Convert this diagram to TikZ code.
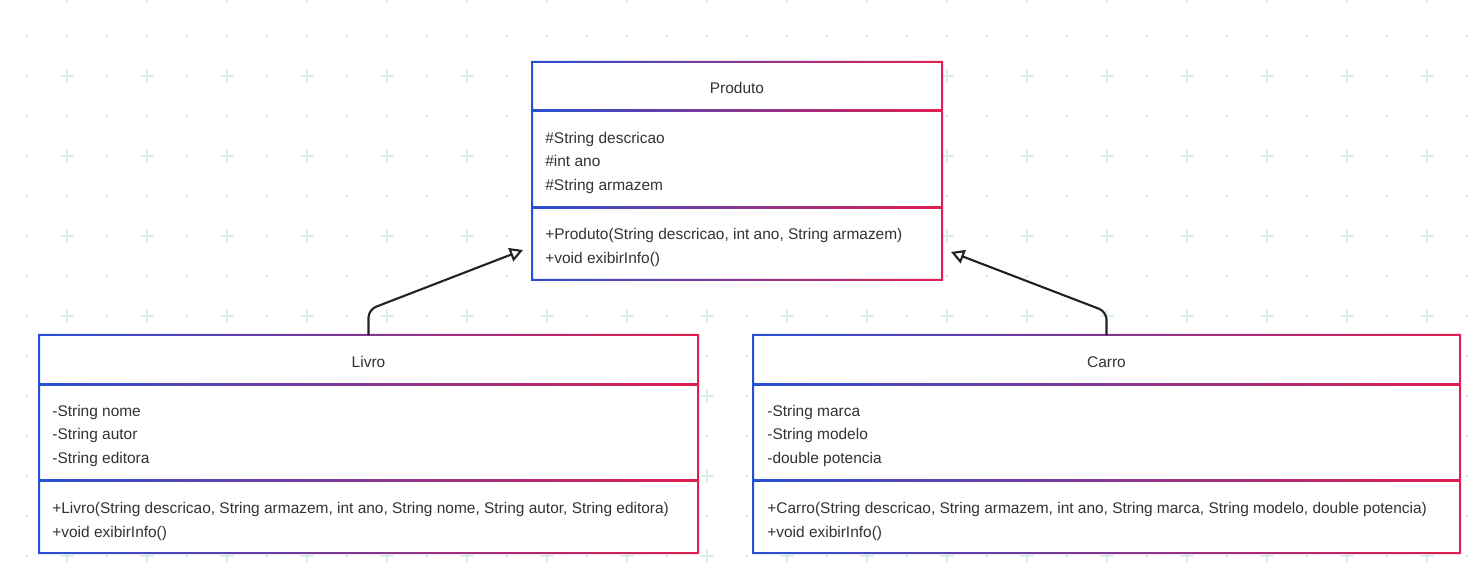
\documentclass[tikz,border=0pt]{standalone}
\usepackage{fontspec}
\setmainfont{Liberation Sans}
\usetikzlibrary{arrows.meta}
\definecolor{umlblue}{RGB}{40,80,210}
\definecolor{umlred}{RGB}{225,30,80}
\definecolor{gridcol}{RGB}{218,237,241}
\definecolor{txtcol}{RGB}{51,51,51}
\definecolor{linkcol}{RGB}{34,34,34}

\begin{document}
\begin{tikzpicture}[x=0.02cm,y=-0.02cm,line cap=round,line join=round,
  gradframe/.style={left color=umlblue,right color=umlred,even odd rule},
  classname/.style={inner sep=0pt,text=txtcol,font=\fontsize{8.8}{13.1}\selectfont},
  members/.style={inner sep=0pt,anchor=west,align=left,text=txtcol,font=\fontsize{8.8}{13.1}\selectfont},
  inherit/.style={-{Triangle[open,length=7.5pt,width=8pt]},linkcol,line width=1.2pt,rounded corners=4.5pt}]

\useasboundingbox (0,0) rectangle (1477,580);

% background grid
\foreach \i in {0,...,36}
  \foreach \j in {0,...,14}
    \fill[gridcol] (27+40*\i,-4+40*\j) circle (0.035cm);
\foreach \i in {0,...,17}
  \foreach \j in {0,...,7}
    \draw[gridcol,line width=1pt] (61+80*\i,-4+80*\j) -- ++(12,0) (67+80*\i,-10+80*\j) -- ++(0,12);

% Produto
\fill[white] (532,62) rectangle (942,280);
\shade[gradframe] (531,61) rectangle (943,281) (533,63) rectangle (941,279);
\shade[gradframe] (532,110) rectangle (942,112);
\shade[gradframe] (532,207) rectangle (942,209);
\node[classname,minimum width=8.2cm,minimum height=0.98cm] (produto) at (737,86.5) {};
\node[classname] (produto-name) at (737,88) {Produto};
\node[members] (produto-attr) at (545,163) {\#String descricao\\\#int ano\\\#String armazem};
\node[members] (produto-ops) at (545,247.5) {+Produto(String descricao, int ano, String armazem)\\+void exibirInfo()};

% Livro
\fill[white] (39,335) rectangle (698,553);
\shade[gradframe] (38,334) rectangle (699,554) (40,336) rectangle (697,552);
\shade[gradframe] (39,384) rectangle (698,386);
\shade[gradframe] (39,480) rectangle (698,482);
\node[classname,minimum width=13.18cm,minimum height=1cm] (livro) at (368.5,360) {};
\node[classname] (livro-name) at (368.5,362) {Livro};
\node[members] (livro-attr) at (52,436) {-String nome\\-String autor\\-String editora};
\node[members] (livro-ops) at (52,521.5) {+Livro(String descricao, String armazem, int ano, String nome, String autor, String editora)\\+void exibirInfo()};

% Carro
\fill[white] (753,335) rectangle (1460,553);
\shade[gradframe] (752,334) rectangle (1461,554) (754,336) rectangle (1459,552);
\shade[gradframe] (753,384) rectangle (1460,386);
\shade[gradframe] (753,480) rectangle (1460,482);
\node[classname,minimum width=14.14cm,minimum height=1cm] (carro) at (1106.5,360) {};
\node[classname] (carro-name) at (1106.5,362) {Carro};
\node[members] (carro-attr) at (767,436) {-String marca\\-String modelo\\-double potencia};
\node[members] (carro-ops) at (767,521.5) {+Carro(String descricao, String armazem, int ano, String marca, String modelo, double potencia)\\+void exibirInfo()};

% heranca
\coordinate (livro-tip) at (523,250);
\coordinate (carro-tip) at (951,252);
\draw[inherit] (livro.north) -- ++(0,-25) -- (livro-tip);
\draw[inherit] (carro.north) -- ++(0,-23) -- (carro-tip);
\end{tikzpicture}
\end{document}
